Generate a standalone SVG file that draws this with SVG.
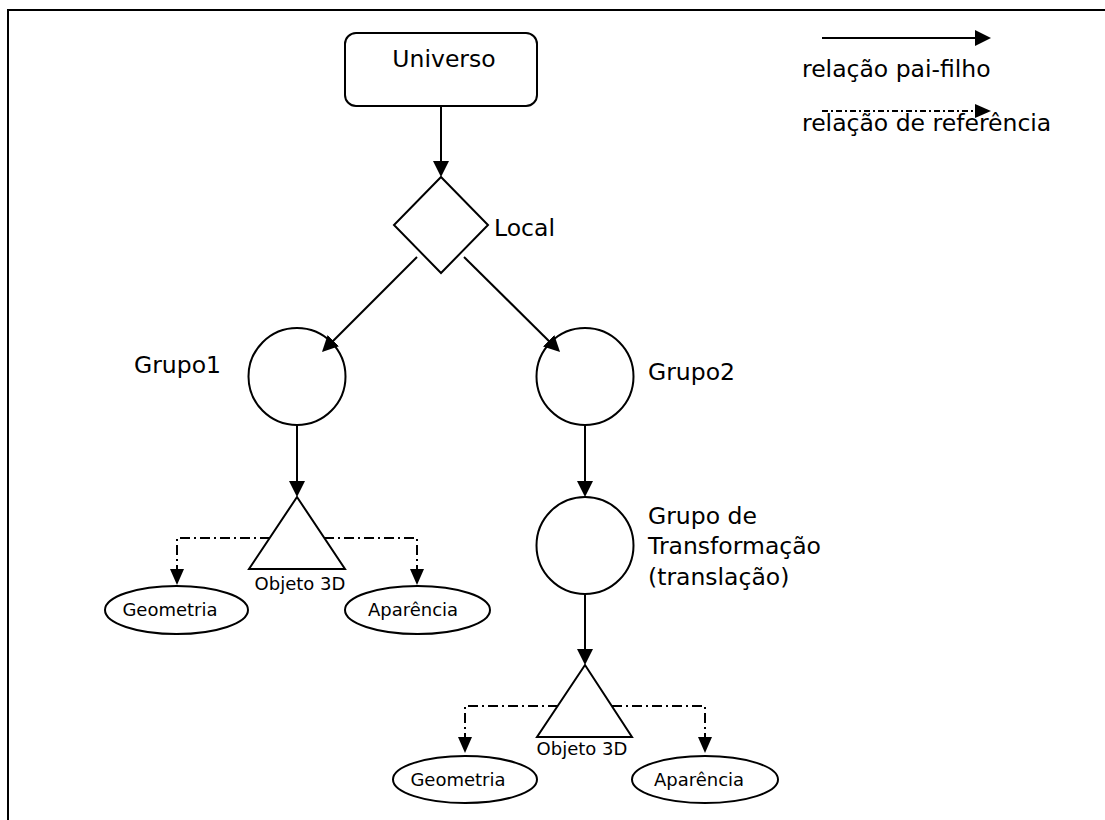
<svg xmlns="http://www.w3.org/2000/svg" width="1105" height="820" viewBox="0 0 1105 820">
  <defs>
    <marker id="arrow" viewBox="0 0 16 16" markerWidth="16" markerHeight="16" refX="12" refY="8" orient="auto" markerUnits="userSpaceOnUse">
      <path d="M0,0 L16,8 L0,16 z" fill="#000"/>
    </marker>
    <marker id="arrow-sm" viewBox="0 0 16 14" markerWidth="16" markerHeight="14" refX="12" refY="7" orient="auto" markerUnits="userSpaceOnUse">
      <path d="M0,0 L16,7 L0,14 z" fill="#000"/>
    </marker>
  </defs>
  <style>
    .shape { fill: #fff; stroke: #000; stroke-width: 2; }
    .edge { fill: none; stroke: #000; stroke-width: 2; marker-end: url(#arrow); }
    .ref { fill: none; stroke: #000; stroke-width: 2; stroke-dasharray: 10 4 2 4; marker-end: url(#arrow-sm); }
    .ref-legend { fill: none; stroke: #000; stroke-width: 2; stroke-dasharray: 6 3 2 3; marker-end: url(#arrow-sm); }
    .lbl { font-family: "DejaVu Sans", Verdana, sans-serif; font-size: 23.5px; fill: #000; }
    .sm { font-family: "DejaVu Sans", Verdana, sans-serif; font-size: 18px; fill: #000; }
  </style>

  <rect width="1105" height="820" fill="#fff"/>
  <!-- page frame -->
  <path d="M8,820 V10 H1105" fill="none" stroke="#000" stroke-width="2"/>

  <!-- legend -->
  <g id="legend">
    <path class="edge" d="M822,38 H987"/>
    <text class="lbl" x="802" y="77">relação pai-filho</text>
    <path class="ref-legend" d="M822,111 H987"/>
    <text class="lbl" x="802" y="131">relação de referência</text>
  </g>

  <g id="universo">
    <rect class="shape" x="345" y="33" width="192" height="73" rx="11"/>
    <text class="lbl" x="444" y="67" text-anchor="middle">Universo</text>
  </g>

  <g id="local">
    <path class="shape" d="M441,177 L488,225 L441,273 L394,225 z"/>
    <text class="lbl" x="494" y="236">Local</text>
  </g>

  <g id="grupo1">
    <circle class="shape" cx="297" cy="376.5" r="48.5"/>
    <text class="lbl" x="134" y="373">Grupo1</text>
  </g>

  <g id="grupo2">
    <circle class="shape" cx="585" cy="376.5" r="48.5"/>
    <text class="lbl" x="648" y="380">Grupo2</text>
  </g>

  <g id="grupo-transformacao">
    <circle class="shape" cx="585" cy="545.5" r="48.5"/>
    <text class="lbl" x="648" y="524">Grupo de</text>
    <text class="lbl" x="648" y="554">Transformação</text>
    <text class="lbl" x="648" y="585">(translação)</text>
  </g>

  <g id="objeto1">
    <path class="shape" d="M297,497 L345,569 L249,569 z"/>
    <text class="sm" x="300" y="590" text-anchor="middle">Objeto 3D</text>
  </g>

  <g id="geometria1">
    <ellipse class="shape" cx="176.5" cy="610" rx="71.5" ry="24"/>
    <text class="sm" x="170" y="616" text-anchor="middle">Geometria</text>
  </g>

  <g id="aparencia1">
    <ellipse class="shape" cx="417.5" cy="610" rx="72.5" ry="24"/>
    <text class="sm" x="413" y="616" text-anchor="middle">Aparência</text>
  </g>

  <g id="objeto2">
    <path class="shape" d="M585,665 L632,737 L537,737 z"/>
    <text class="sm" x="582" y="755" text-anchor="middle">Objeto 3D</text>
  </g>

  <g id="geometria2">
    <ellipse class="shape" cx="465" cy="779.5" rx="72" ry="23.5"/>
    <text class="sm" x="458" y="786" text-anchor="middle">Geometria</text>
  </g>

  <g id="aparencia2">
    <ellipse class="shape" cx="705" cy="779.5" rx="73" ry="23.5"/>
    <text class="sm" x="699" y="786" text-anchor="middle">Aparência</text>
  </g>

  <!-- connectors, drawn over the nodes so arrowheads entering circles stay visible -->
  <g id="connectors">
    <path class="edge" d="M441,106 V173"/>
    <path class="edge" d="M417,257 L324.8,349.2"/>
    <path class="edge" d="M464,257 L557.2,349.2"/>
    <path class="edge" d="M297,425 V493"/>
    <path class="edge" d="M585,425 V493"/>
    <path class="edge" d="M585,594 V661"/>
    <path class="ref" d="M270,538 H177 V581"/>
    <path class="ref" d="M324,538 H417 V581"/>
    <path class="ref" d="M558,706 H465 V749"/>
    <path class="ref" d="M612,706 H705 V749"/>
  </g>
</svg>
